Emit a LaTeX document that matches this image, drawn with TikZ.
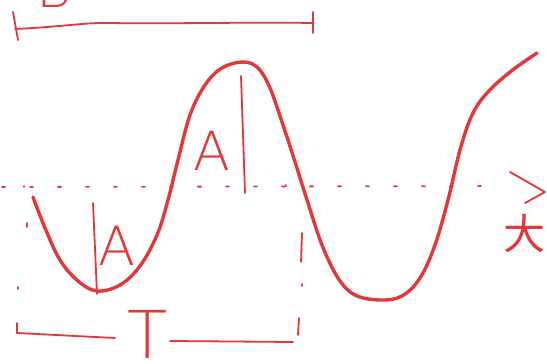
\documentclass[tikz,border=0pt]{standalone}
\usepackage{fontspec}
\newfontfamily\handfont{DejaVu Sans ExtraLight}
\newfontfamily\cjkfont{Noto Sans CJK SC}
\usetikzlibrary{positioning}
\definecolor{pen}{RGB}{226,56,58}

\begin{document}
\begin{tikzpicture}[
    x=1pt, y=-1pt,
    wave/.style={draw=pen, line width=3.4pt, line cap=round, line join=round},
    stroke/.style={draw=pen, line width=1.8pt, line cap=round, line join=round},
    axisdots/.style={draw=pen, line width=1.8pt, line cap=round, dash pattern=on 3pt off 25pt},
    guide/.style={draw=pen, line width=1.8pt, line cap=round},
    hand/.style={text=pen, inner sep=0pt, text depth=0pt, font=\handfont\fontsize{54}{54}\selectfont}
]
\useasboundingbox (0,0) rectangle (547,364);

% time axis
\draw [axisdots] (2,187) -- (500,186);
\draw [stroke] (510,172) -- (545,192) -- (525,203);
\node (axislabel) [text=pen, inner sep=0pt, font=\cjkfont\fontsize{42}{42}\selectfont] at (524,234) {大};

% the wave
\draw [wave] plot[smooth, tension=0.6] coordinates {
    (33,197) (45,228) (60,260) (78,281) (97,291) (120,285) (140,266) (157,235)
    (168,200) (178,160) (190,115) (205,85) (222,68) (243,62) (258,68) (270,88)
    (283,125) (296,165) (308,203) (322,245) (338,278) (355,295) (380,300)
    (402,296) (420,278) (435,245) (448,200) (460,150) (472,115) (487,93)
    (510,72) (537,53)};

% amplitudes
\draw [stroke] (93,203) -- (97,294);
\node (amplow) [hand] at (117,246) {A};
\draw [stroke] (241,76) -- (245,193);
\node (amphigh) [hand] at (212,151) {A};

% guides down to the period bracket
\draw [guide] (24,186) -- (24,187);
\draw [guide] (27,223) -- (27,227);
\draw [guide] (18,287) -- (18,289);
\draw [guide] (17,323) -- (17,333);
\draw [guide] (286,185) -- (286,186);
\draw [guide] (302,233) -- (301,262);
\draw [guide] (302,284) -- (302,286);
\draw [guide] (299,318) -- (298,335);

% period T
\draw [stroke] (17,333) -- (115,338);
\draw [stroke] (170,341) -- (293,342);
\node (period) [hand, anchor=base, font=\handfont\fontsize{66}{66}\selectfont] at (148,358) {T};

% upper bracket B
\draw [stroke] (13,12) -- (18,40);
\draw [stroke] (15,29) .. controls (60,27) and (90,22) .. (110,23)
    .. controls (160,24) and (250,22) .. (313,23);
\draw [stroke] (313,12) -- (313,33);
\node (top) [hand, anchor=base] at (54,8) {B};
\end{tikzpicture}
\end{document}
